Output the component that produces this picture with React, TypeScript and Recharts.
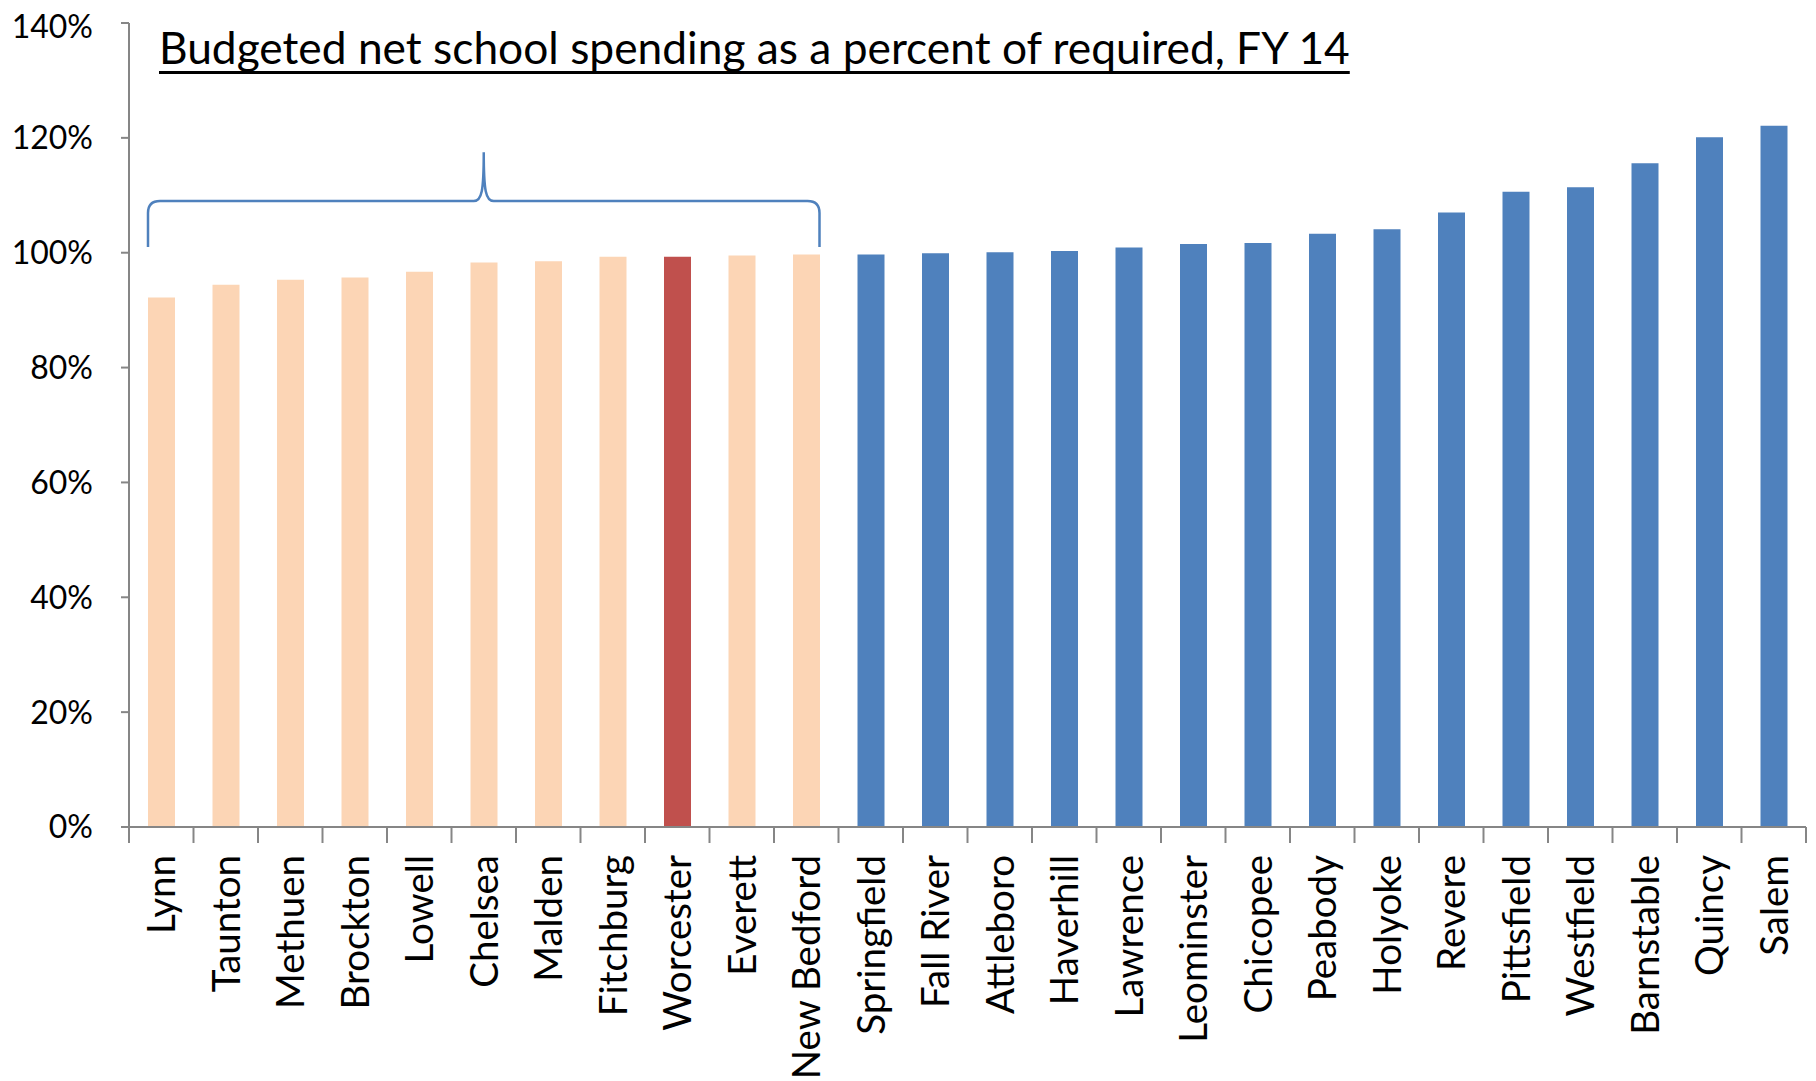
import React from "react";
import { BarChart, Bar, XAxis, YAxis, Cell, ReferenceArea } from "recharts";

// city order as on the chart (sorted by value)
const cities = [
  "Lynn", "Taunton", "Methuen", "Brockton", "Lowell", "Chelsea", "Malden",
  "Fitchburg", "Worcester", "Everett", "New Bedford", "Springfield",
  "Fall River", "Attleboro", "Haverhill", "Lawrence", "Leominster",
  "Chicopee", "Peabody", "Holyoke", "Revere", "Pittsfield", "Westfield",
  "Barnstable", "Quincy", "Salem",
];

// budgeted NSS as % of required, FY14
const pctOfRequired = [
  92.2, 94.4, 95.3, 95.7, 96.7, 98.3, 98.5,
  99.3, 99.3, 99.5, 99.7, 99.7,
  99.9, 100.1, 100.3, 100.9, 101.5,
  101.7, 103.3, 104.1, 107.0, 110.6, 111.4,
  115.6, 120.1, 122.1,
];

const yTicks = [0, 20, 40, 60, 80, 100, 120, 140];

const HIGHLIGHT = "Worcester";
const BRACKET_FIRST = "Lynn";
const BRACKET_LAST = "New Bedford";
// brace: feet, bar and tip heights in chart units
const braceFeet = 101;
const braceBar = 109;
const braceTip = 117.5;

const data = cities.map((city, i) => ({ city, value: pctOfRequired[i] }));

const PEACH = "#FCD5B5";
const RED = "#C0504D";
const BLUE = "#4F81BD";
const AXIS = "#868686";
const FONT = "Lato, 'Open Sans', sans-serif";

const lastBracketIdx = cities.indexOf(BRACKET_LAST);

function barColor(city: string, i: number) {
  if (city === HIGHLIGHT) return RED;
  return i <= lastBracketIdx ? PEACH : BLUE;
}

function CityTick(props: any) {
  const { x, y, payload, index } = props;
  const half = payload.offset || 0;
  return (
    <g>
      <line x1={x - half} y1={y - 8} x2={x - half} y2={y + 8} stroke={AXIS} strokeWidth={2} />
      {index === cities.length - 1 && (
        <line x1={x + half} y1={y - 8} x2={x + half} y2={y + 8} stroke={AXIS} strokeWidth={2} />
      )}
      <text
        x={x}
        y={y + 20}
        transform={`rotate(-90, ${x}, ${y + 20})`}
        textAnchor="end"
        dy="0.36em"
        fontSize={38.5}
        fontFamily={FONT}
        fill="#000"
      >
        {payload.value}
      </text>
    </g>
  );
}

function Brace(props: any) {
  const { x, y, width, height } = props;
  const inset = 19;
  const x0 = x + inset;
  const x1 = x + width - inset;
  const xc = (x0 + x1) / 2;
  const yB = y + height;
  const yT = y;
  const yM = yB - ((braceBar - braceFeet) / (braceTip - braceFeet)) * height;
  const r = 12;
  const d = [
    `M ${x0} ${yB}`,
    `L ${x0} ${yM + r}`,
    `Q ${x0} ${yM} ${x0 + r} ${yM}`,
    `L ${xc - 10} ${yM}`,
    `C ${xc - 2} ${yM} ${xc} ${yM - 10} ${xc} ${yT}`,
    `C ${xc} ${yM - 10} ${xc + 2} ${yM} ${xc + 10} ${yM}`,
    `L ${x1 - r} ${yM}`,
    `Q ${x1} ${yM} ${x1} ${yM + r}`,
    `L ${x1} ${yB}`,
  ].join(" ");
  return <path d={d} fill="none" stroke={BLUE} strokeWidth={2.5} />;
}

export default function App() {
  return (
    <div style={{ position: "relative", width: 1800, height: 1073 }}>
      <style>{`.recharts-surface { overflow: visible; }`}</style>
      <BarChart
        width={1800}
        height={1073}
        data={data}
        margin={{ top: 15, right: 2, bottom: 0, left: 0 }}
        barSize={27}
      >
        <XAxis
          dataKey="city"
          interval={0}
          height={254}
          axisLine={{ stroke: AXIS, strokeWidth: 2 }}
          tickLine={false}
          tick={<CityTick />}
        />
        <YAxis
          width={121}
          domain={[0, 140]}
          ticks={yTicks}
          tickFormatter={(v) => `${v}%`}
          axisLine={{ stroke: AXIS, strokeWidth: 2 }}
          tickLine={{ stroke: AXIS, strokeWidth: 2 }}
          tickSize={8}
          tickMargin={28}
          tick={{ fontSize: 32, fontFamily: FONT, fill: "#000" }}
        />
        <Bar dataKey="value" isAnimationActive={false}>
          {data.map((d, i) => (
            <Cell key={d.city} fill={barColor(d.city, i)} />
          ))}
        </Bar>
        <ReferenceArea
          x1={BRACKET_FIRST}
          x2={BRACKET_LAST}
          y1={braceFeet}
          y2={braceTip}
          shape={<Brace />}
          ifOverflow="visible"
        />
      </BarChart>
      <div
        style={{
          position: "absolute",
          left: 151,
          top: 17,
          fontFamily: FONT,
          fontSize: 44.3,
          lineHeight: "44px",
          color: "#000",
          textDecoration: "underline",
          textDecorationThickness: 3,
          textUnderlineOffset: 7,
          textDecorationSkipInk: "none",
          whiteSpace: "nowrap",
        }}
      >
        Budgeted net school spending as a percent of required, FY 14
      </div>
    </div>
  );
}
